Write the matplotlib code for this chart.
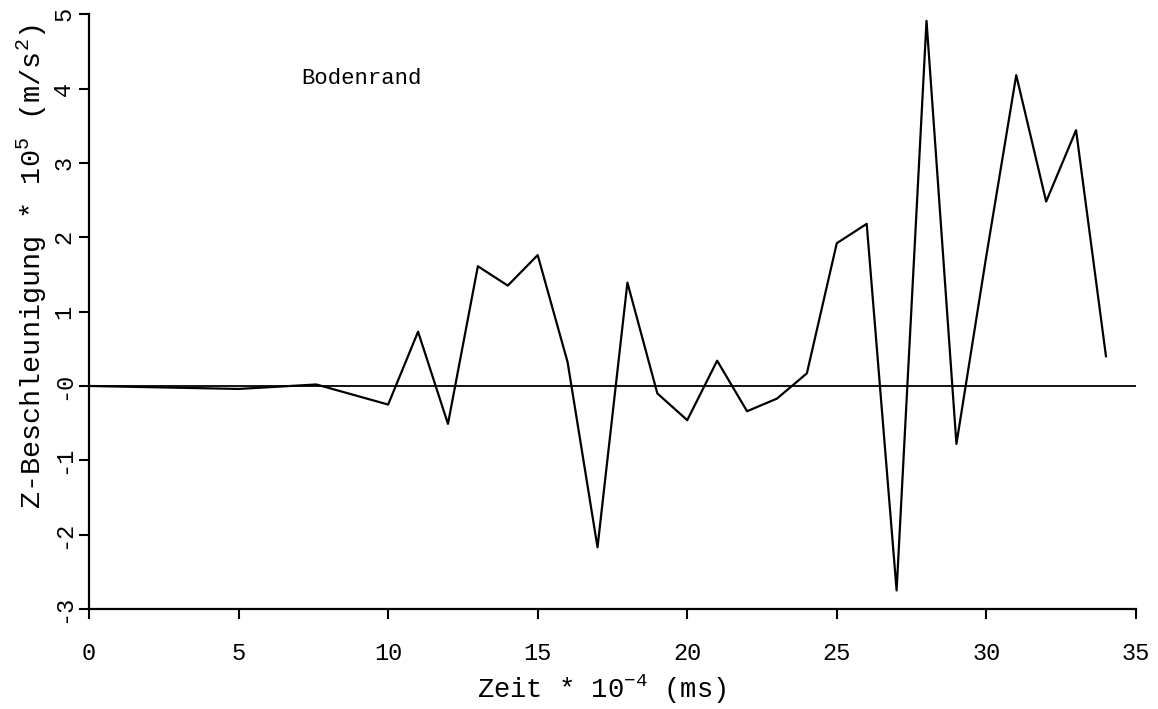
import numpy as np
import matplotlib.pyplot as plt

# Zeit * 10^-4 (ms) und Z-Beschleunigung * 10^5 (m/s^2)
zeit = [0, 5, 7.6, 10, 11, 12, 13, 14, 15, 16, 17, 18, 19, 20, 21, 22,
        23, 24, 25, 26, 27, 28, 29, 30, 31, 32, 33, 34]
beschl = [0.0, -0.04, 0.02, -0.25, 0.73, -0.51, 1.61, 1.35, 1.76, 0.32,
          -2.17, 1.39, -0.10, -0.46, 0.34, -0.34, -0.17, 0.17, 1.92, 2.18,
          -2.75, 4.91, -0.78, 1.75, 4.18, 2.48, 3.44, 0.40]

x_ticks = [0, 5, 10, 15, 20, 25, 30, 35]
y_ticks = [-3, -2, -1, 0, 1, 2, 3, 4, 5]
y_ticklabels = ["-3", "-2", "-1", "-0", "1", "2", "3", "4", "5"]

plt.rcParams['font.family'] = ['Liberation Mono', 'DejaVu Sans Mono']
plt.rcParams['mathtext.fontset'] = 'custom'
plt.rcParams['mathtext.rm'] = 'Liberation Mono'

fig = plt.figure(figsize=(11.58, 7.09), dpi=100)
ax = fig.add_axes([0.0769, 0.141, 0.904, 0.839])

ax.plot(zeit, beschl, color="black", lw=1.6)
ax.axhline(0, color="black", lw=1.3)

ax.set_xlim(0, 35)
ax.set_ylim(-3, 5)
ax.spines["top"].set_visible(False)
ax.spines["right"].set_visible(False)
ax.spines["left"].set_linewidth(1.6)
ax.spines["bottom"].set_linewidth(1.6)

ax.set_xticks(x_ticks)
ax.set_xticklabels([str(t) for t in x_ticks])
ax.set_yticks(y_ticks)
ax.set_yticklabels(y_ticklabels, rotation=90, va="center")
ax.tick_params(axis="both", direction="out", length=7, width=1.5,
               labelsize=17, color="black")
ax.tick_params(axis="x", pad=17)
ax.tick_params(axis="y", pad=3)

ax.set_xlabel(r"Zeit * 10$^{-4}$ (ms)", fontsize=19.5)
ax.xaxis.set_label_coords(0.49, -0.107)
ax.set_ylabel(r"Z-Beschleunigung * 10$^{5}$ (m/s$^{2}$)", fontsize=20.5)
ax.yaxis.set_label_coords(-0.038, 0.576)

ax.text(7.1, 4.13, "Bodenrand", fontsize=16, va="center")

plt.savefig("out.png", dpi=100)
